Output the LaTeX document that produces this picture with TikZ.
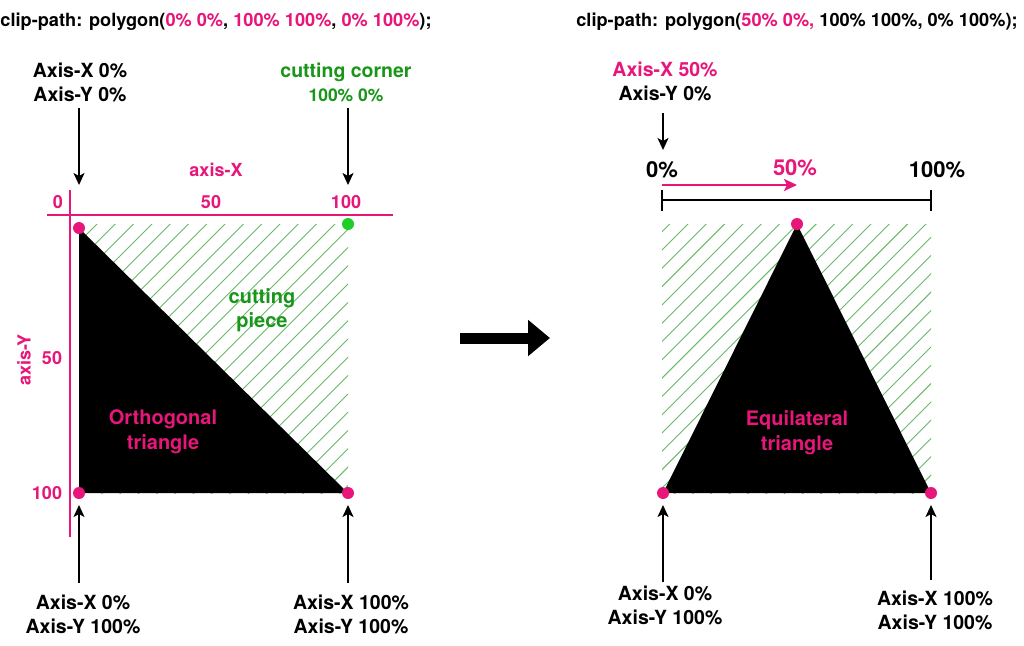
\documentclass[tikz,border=0pt]{standalone}
\usepackage{fontspec}
\setmainfont{TeX Gyre Heros}
\usetikzlibrary{arrows.meta}
\definecolor{pk}{RGB}{232,22,122}
\definecolor{gtxt}{RGB}{25,150,25}
\definecolor{gdot}{RGB}{30,205,40}
\definecolor{hatchc}{RGB}{105,185,105}
\begin{document}
\begin{tikzpicture}[x=1pt,y=-1pt,
  lbl/.style={font=\fontsize{19.5}{24}\selectfont\bfseries, align=center, inner sep=0pt},
  hdr/.style={font=\fontsize{18.2}{22}\selectfont\bfseries, inner sep=0pt},
  ticklbl/.style={font=\fontsize{18}{20}\selectfont\bfseries, text=pk, inner sep=0pt},
  pct/.style={font=\fontsize{22}{24}\selectfont\bfseries, inner sep=0pt},
  arr/.style={line width=1.8pt, -{Stealth[length=12pt,width=11pt,inset=3pt]}},
  axisline/.style={draw=pk, line width=2.5pt},
  hatchl/.style={draw=hatchc, line width=0.9pt},
  dot/.style={circle, fill=pk, minimum size=12pt, inner sep=0pt},
]
\useasboundingbox[fill=white] (0,0) rectangle (1024,645);

% headers
\node[hdr] (h1) at (216,22) {clip-path: polygon(\textcolor{pk}{0\% 0\%}, \textcolor{pk}{100\% 100\%}, \textcolor{pk}{0\% 100\%});};
\node[hdr] (h2) at (797,22) {clip-path: polygon(\textcolor{pk}{50\% 0\%,} 100\% 100\%, 0\% 100\%);};

% ---------- left panel ----------
\begin{scope}
  \clip (79,224) rectangle (348,493);
  \foreach \k in {-3,...,31} {
    \pgfmathsetmacro\xt{97+18.3*\k}
    \draw[hatchl] (\xt-300,524) -- (\xt+100,124);
  }
\end{scope}
\fill[black] (79,228) -- (348,493) -- (79,493) -- cycle;

\draw[axisline] (47,215) -- (393,215);
\draw[axisline] (70,190) -- (70,537);

\node[dot] (lTL) at (79,228) {};
\node[dot, fill=gdot] (lTR) at (348,224) {};
\node[dot] (lBL) at (79,493) {};
\node[dot] (lBR) at (348,493) {};

\node[ticklbl] (ax) at (216,170) {axis-X};
\node[ticklbl] (x0) at (58,202) {0};
\node[ticklbl] (x50) at (211,202) {50};
\node[ticklbl] (x100) at (346,202) {100};
\node[ticklbl] (y50) at (52,358) {50};
\node[ticklbl] (y100) at (47,493) {100};
\node[ticklbl, rotate=90] (ay) at (24,360) {axis-Y};

\node[lbl] (ltl) at (80,82) {Axis-X 0\%\\Axis-Y 0\%};
\node[lbl, text=gtxt] (ltr) at (346,82) {cutting corner\\{\fontsize{17.5}{24}\selectfont 100\% 0\%}};
\node[lbl, text=gtxt, font=\fontsize{20}{24}\selectfont\bfseries] (cp) at (262,310) {cutting\\piece};
\node[lbl, text=pk, font=\fontsize{20}{25}\selectfont\bfseries] (ot) at (163,432) {Orthogonal\\triangle};
\node[lbl] (lbl1) at (83,614) {Axis-X 0\%\\Axis-Y 100\%};
\node[lbl] (lbr) at (351,614) {Axis-X 100\%\\Axis-Y 100\%};

\coordinate (a1s) at (79,108);  \coordinate (a1e) at (79,185);
\coordinate (a2s) at (348,108); \coordinate (a2e) at (348,185);
\coordinate (a3s) at (79,583);  \coordinate (a3e) at (79,505);
\coordinate (a4s) at (348,583); \coordinate (a4e) at (348,505);
\draw[arr] (a1s) -- (a1e);
\draw[arr] (a2s) -- (a2e);
\draw[arr] (a3s) -- (a3e);
\draw[arr] (a4s) -- (a4e);

% ---------- big arrow ----------
\coordinate (bigA) at (460,338);
\coordinate (bigB) at (550,338);
\draw[line width=11pt, -{Triangle[length=22pt,width=35pt]}] (bigA) -- (bigB);

% ---------- right panel ----------
\begin{scope}
  \clip (662,224) rectangle (931,493);
  \foreach \k in {-3,...,31} {
    \pgfmathsetmacro\xt{688+18.3*\k}
    \draw[hatchl] (\xt-300,524) -- (\xt+100,124);
  }
\end{scope}
\fill[black] (797,224) -- (931,493) -- (663,493) -- cycle;

\node[dot] (rT) at (797,224) {};
\node[dot] (rBL) at (663,493) {};
\node[dot] (rBR) at (931,493) {};

\draw[line width=2.5pt] (662,200) -- (931,200);
\draw[line width=2.5pt] (662,190) -- (662,211);
\draw[line width=2.5pt] (931,190) -- (931,211);
\coordinate (pa) at (662,185);
\coordinate (pb) at (797,185);
\draw[draw=pk, line width=2.5pt, -{Stealth[length=13pt,width=12pt,inset=3pt]}] (pa) -- (pb);

\node[pct] (p0) at (662,170) {0\%};
\node[pct, text=pk] (p50) at (795,168) {50\%};
\node[pct] (p100) at (937,170) {100\%};

\node[lbl] (rtl) at (665,81) {\textcolor{pk}{Axis-X 50\%}\\Axis-Y 0\%};
\node[lbl, text=pk, font=\fontsize{20}{25}\selectfont\bfseries] (et) at (797,433) {Equilateral\\triangle};
\node[lbl] (rbl) at (665,605) {Axis-X 0\%\\Axis-Y 100\%};
\node[lbl] (rbr) at (935,610) {Axis-X 100\%\\Axis-Y 100\%};

\coordinate (b1s) at (663,113); \coordinate (b1e) at (663,150);
\coordinate (b2s) at (663,582); \coordinate (b2e) at (663,505);
\coordinate (b3s) at (931,580); \coordinate (b3e) at (931,505);
\draw[arr] (b1s) -- (b1e);
\draw[arr] (b2s) -- (b2e);
\draw[arr] (b3s) -- (b3e);
\end{tikzpicture}
\end{document}
